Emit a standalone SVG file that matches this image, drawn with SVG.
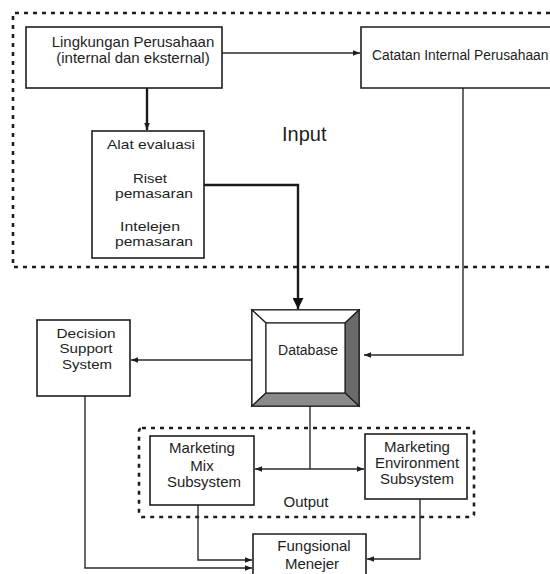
<svg xmlns="http://www.w3.org/2000/svg" width="550" height="574" viewBox="0 0 550 574">
  <defs>
    <style>
      .box { fill: #fff; stroke: #1e1e1e; stroke-width: 1.6; }
      .zone { fill: none; stroke: #1e1e1e; stroke-width: 2.6; stroke-dasharray: 4 5; }
      .wire { fill: none; stroke: #2a2a2a; stroke-width: 1.4; }
      .wire-bold { fill: none; stroke: #1a1a1a; stroke-width: 2.4; }
      text { font-family: "Liberation Sans", Arial, sans-serif; font-size: 15px; fill: #1e1e1e; }
      .mid { text-anchor: middle; }
      .tight { font-size: 13px; }
    </style>
    <marker id="tip" viewBox="0 0 10 10" refX="10" refY="5" markerWidth="7" markerHeight="7" markerUnits="userSpaceOnUse" orient="auto">
      <path d="M0,1 L10,5 L0,9 z" fill="#1e1e1e"/>
    </marker>
    <marker id="tipStart" viewBox="0 0 10 10" refX="0" refY="5" markerWidth="7" markerHeight="7" markerUnits="userSpaceOnUse" orient="auto">
      <path d="M10,1 L0,5 L10,9 z" fill="#1e1e1e"/>
    </marker>
    <marker id="bigTip" viewBox="0 0 10 10" refX="10" refY="5" markerWidth="11" markerHeight="11" markerUnits="userSpaceOnUse" orient="auto">
      <path d="M0,0 L10,5 L0,10 z" fill="#111"/>
    </marker>
  </defs>

  <rect width="550" height="574" fill="#fff"/>

  <!-- dashed zones: input area and output area -->
  <g id="zones">
    <path class="zone" d="M550,13 H13 V267 H550"/>
    <rect class="zone" x="139" y="428" width="335" height="89" rx="3"/>
    <text x="282" y="141" style="font-size:20px">Input</text>
    <text x="306" y="507" class="mid">Output</text>
  </g>

  <!-- connectors -->
  <g id="connectors">
    <path class="wire-bold" d="M147,88 V130" marker-end="url(#tip)"/>
    <path class="wire" d="M222,53 H360" marker-end="url(#tip)"/>
    <path class="wire-bold" d="M204,185 H298 V309" marker-end="url(#bigTip)"/>
    <path class="wire" d="M463,88 V355 H364" marker-end="url(#tip)"/>
    <path class="wire" d="M252,360 H131" marker-end="url(#tip)"/>
    <path class="wire" d="M310,406 V469"/>
    <path class="wire" d="M255,469 H364" marker-start="url(#tipStart)" marker-end="url(#tip)"/>
    <path class="wire" d="M85,396 V568 H252" marker-end="url(#tip)"/>
    <path class="wire" d="M198,505 V560 H252" marker-end="url(#tip)"/>
    <path class="wire" d="M420,499 V559 H367" marker-end="url(#tip)"/>
  </g>

  <g id="lingkungan">
    <rect class="box" x="26" y="27" width="196" height="61"/>
    <text x="133" y="47" class="mid">Lingkungan Perusahaan</text>
    <text x="133" y="63" class="mid">(internal dan eksternal)</text>
  </g>

  <g id="catatan">
    <path class="box" d="M552,27 H361 V88 H552"/>
    <text x="372" y="60" style="font-size:13.8px">Catatan Internal Perusahaan</text>
  </g>

  <g id="alat-evaluasi">
    <rect class="box" x="92" y="131" width="112" height="127"/>
    <text x="151" y="149" class="mid tight" textLength="88" lengthAdjust="spacingAndGlyphs">Alat evaluasi</text>
    <text x="150" y="183" class="mid tight" textLength="34" lengthAdjust="spacingAndGlyphs">Riset</text>
    <text x="154" y="198" class="mid tight" textLength="78" lengthAdjust="spacingAndGlyphs">pemasaran</text>
    <text x="150" y="231" class="mid tight" textLength="60" lengthAdjust="spacingAndGlyphs">Intelejen</text>
    <text x="154" y="246" class="mid tight" textLength="78" lengthAdjust="spacingAndGlyphs">pemasaran</text>
  </g>

  <g id="database">
    <rect x="252" y="310" width="107" height="96" fill="#fff" stroke="#1e1e1e" stroke-width="1.6"/>
    <polygon points="252,310 359,310 345,323 266,323" fill="#fff" stroke="#1e1e1e" stroke-width="1.2"/>
    <polygon points="252,310 266,323 266,393 252,406" fill="#fff" stroke="#1e1e1e" stroke-width="1.2"/>
    <polygon points="359,310 359,406 345,393 345,323" fill="#6a6a6a" stroke="#1e1e1e" stroke-width="1.2"/>
    <polygon points="252,406 359,406 345,393 266,393" fill="#8a8a8a" stroke="#1e1e1e" stroke-width="1.2"/>
    <rect x="266" y="323" width="79" height="70" fill="#fff" stroke="#1e1e1e" stroke-width="1.2"/>
    <text x="308" y="355" class="mid" style="font-size:14px">Database</text>
  </g>

  <g id="decision-support-system">
    <rect class="box" x="37" y="320" width="93" height="76"/>
    <text x="86" y="338" class="mid tight" textLength="59" lengthAdjust="spacingAndGlyphs">Decision</text>
    <text x="86" y="353" class="mid tight" textLength="53" lengthAdjust="spacingAndGlyphs">Support</text>
    <text x="87" y="369" class="mid tight" textLength="50" lengthAdjust="spacingAndGlyphs">System</text>
  </g>

  <g id="marketing-mix">
    <rect class="box" x="150" y="436" width="104" height="69"/>
    <text x="202" y="453" class="mid">Marketing</text>
    <text x="202" y="471" class="mid">Mix</text>
    <text x="204" y="487" class="mid">Subsystem</text>
  </g>

  <g id="marketing-environment">
    <rect class="box" x="365" y="434" width="102" height="65"/>
    <text x="417" y="452" class="mid">Marketing</text>
    <text x="417" y="468" class="mid">Environment</text>
    <text x="417" y="484" class="mid">Subsystem</text>
  </g>

  <g id="fungsional-menejer">
    <path class="box" d="M253,580 V534 H366 V580"/>
    <text x="314" y="551" class="mid">Fungsional</text>
    <text x="312" y="569" class="mid">Menejer</text>
  </g>
</svg>
